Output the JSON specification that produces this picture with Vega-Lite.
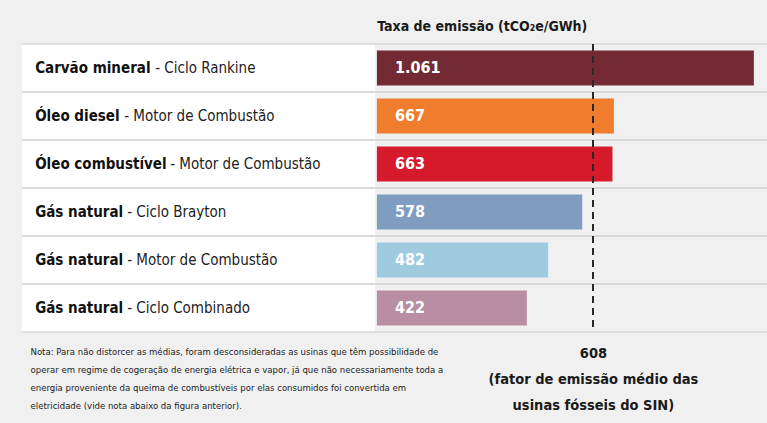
{
  "$schema": "https://vega.github.io/schema/vega-lite/v6.json",
  "width": 745,
  "height": 288,
  "autosize": {"type": "none"},
  "padding": {"left": 22, "top": 44, "right": 0, "bottom": 91},
  "background": "#f0f0f0",
  "config": {
    "view": {"stroke": null},
    "locale": {"number": {"decimal": ",", "thousands": ".", "grouping": [3], "currency": ["R$ ", ""]}},
    "font": "Liberation Sans Narrow, DejaVu Sans Condensed, Liberation Sans, sans-serif"
  },
  "title": {
    "text": "Taxa de emissão (tCO₂e/GWh)",
    "anchor": "start",
    "dx": 356,
    "offset": 9,
    "fontSize": 14,
    "fontWeight": "bold",
    "color": "#1a1a1a",
    "font": "Liberation Sans Narrow, DejaVu Sans Condensed, Liberation Sans, sans-serif"
  },
  "data": {
    "values": [
      {"fuel": "Carvão mineral", "tech": "- Ciclo Rankine", "label": "Carvão mineral - Ciclo Rankine", "value": 1061},
      {"fuel": "Óleo diesel", "tech": "- Motor de Combustão", "label": "Óleo diesel - Motor de Combustão", "value": 667},
      {"fuel": "Óleo combustível", "tech": "- Motor de Combustão", "label": "Óleo combustível - Motor de Combustão", "value": 663},
      {"fuel": "Gás natural", "tech": "- Ciclo Brayton", "label": "Gás natural - Ciclo Brayton", "value": 578},
      {"fuel": "Gás natural", "tech": "- Motor de Combustão", "label": "Gás natural - Motor de Combustão", "value": 482},
      {"fuel": "Gás natural", "tech": "- Ciclo Combinado", "label": "Gás natural - Ciclo Combinado", "value": 422}
    ]
  },
  "resolve": {"scale": {"y": "shared"}},
  "layer": [
    {
      "mark": {"type": "rect", "color": "#ffffff"},
      "encoding": {
        "y": {"field": "label", "type": "nominal", "sort": null, "axis": null,
              "scale": {"paddingInner": 0, "paddingOuter": 0}},
        "x": {"datum": -999, "type": "quantitative",
              "scale": {"domain": [-999, 1098], "nice": false, "zero": false}},
        "x2": {"datum": -5}
      }
    },
    {
      "mark": {"type": "rule", "color": "#d9d9d9", "strokeWidth": 1.5},
      "encoding": {"y": {"field": "label", "type": "nominal", "sort": null, "bandPosition": 0, "axis": null}}
    },
    {
      "mark": {"type": "rule", "color": "#d9d9d9", "strokeWidth": 1.5},
      "encoding": {"y": {"field": "label", "type": "nominal", "sort": null, "bandPosition": 1, "axis": null}}
    },
    {
      "mark": {"type": "bar", "height": {"band": 0.73}},
      "encoding": {
        "y": {"field": "label", "type": "nominal", "sort": null, "axis": null},
        "x": {
          "field": "value", "type": "quantitative",
          "axis": {
            "orient": "bottom",
            "values": [608],
            "domain": false, "ticks": false, "grid": false,
            "labelExpr": "['608', '(fator de emissão médio das', 'usinas fósseis do SIN)']",
            "labelFontSize": 14.5, "labelFontWeight": "bold", "labelColor": "#1a1a1a",
            "labelLineHeight": 26, "labelPadding": 14, "labelBaseline": "top",
            "labelLimit": 400,
            "labelOverlap": false, "labelFlush": false, "labelBound": false,
            "title": [
              "Nota: Para não distorcer as médias, foram desconsideradas as usinas que têm possibilidade de",
              "operar em regime de cogeração de energia elétrica e vapor, já que não necessariamente toda a",
              "energia proveniente da queima de combustíveis por elas consumidos foi convertida em",
              "eletricidade (vide nota abaixo da figura anterior)."
            ],
            "titleFontSize": 9.5, "titleFontWeight": "normal", "titleColor": "#222222",
            "titleAlign": "left", "titleAnchor": "start", "titleBaseline": "top",
            "titleX": 8, "titleY": 14, "titleLineHeight": 18, "titleLimit": 500
          }
        },
        "color": {
          "field": "label", "type": "nominal", "legend": null,
          "scale": {
            "domain": ["Carvão mineral - Ciclo Rankine", "Óleo diesel - Motor de Combustão", "Óleo combustível - Motor de Combustão", "Gás natural - Ciclo Brayton", "Gás natural - Motor de Combustão", "Gás natural - Ciclo Combinado"],
            "range": ["#742a34", "#ef7d2d", "#d51a2b", "#7f9dc1", "#9fcbe0", "#b98ea2"]
          }
        }
      }
    },
    {
      "mark": {"type": "text", "align": "left", "dx": 18, "fontSize": 16, "fontWeight": "bold", "color": "#ffffff"},
      "encoding": {
        "y": {"field": "label", "type": "nominal", "sort": null, "axis": null},
        "x": {"datum": 0, "type": "quantitative"},
        "text": {"field": "value", "type": "quantitative", "format": ",d"}
      }
    },
    {
      "mark": {"type": "rule", "color": "#2a2a2a", "strokeWidth": 1.6, "strokeDash": [7, 5]},
      "encoding": {"x": {"datum": 608, "type": "quantitative"}}
    },
    {
      "mark": {"type": "text", "align": "left", "fontSize": 15, "fontWeight": "bold", "color": "#111111"},
      "encoding": {
        "y": {"field": "label", "type": "nominal", "sort": null, "axis": null},
        "x": {"datum": -962, "type": "quantitative"},
        "text": {"field": "fuel"}
      }
    },
    {
      "mark": {"type": "text", "align": "left", "fontSize": 15, "fontWeight": "normal", "color": "#222222",
               "dx": {"expr": "datum.fuel === 'Carvão mineral' ? 120 : datum.fuel === 'Óleo diesel' ? 89 : datum.fuel === 'Óleo combustível' ? 135 : 92"}},
      "encoding": {
        "y": {"field": "label", "type": "nominal", "sort": null, "axis": null},
        "x": {"datum": -962, "type": "quantitative"},
        "text": {"field": "tech"}
      }
    }
  ]
}
